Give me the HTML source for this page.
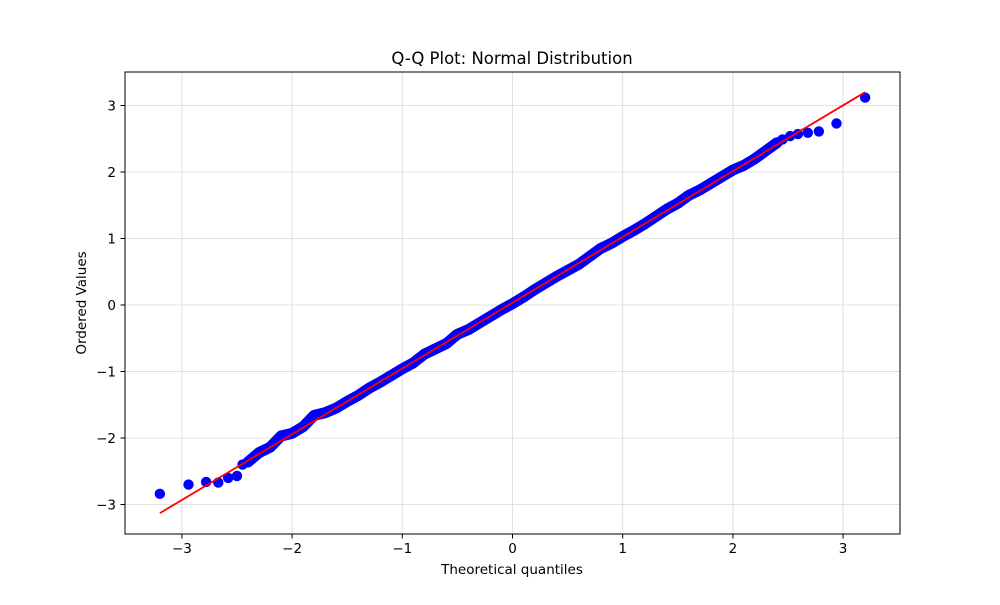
<!DOCTYPE html>
<html><head><meta charset="utf-8"><style>
body{margin:0;background:#fff;font-family:"Liberation Sans","DejaVu Sans",sans-serif}
svg text{font-family:"DejaVu Sans","Liberation Sans",sans-serif}
</style></head><body>
<svg id="chart" width="1000" height="600" xmlns="http://www.w3.org/2000/svg">
<rect width="1000" height="600" fill="#fff"/>
<g id="grid"></g>
<g id="marks"></g>
<rect x="125" y="72" width="775" height="462" fill="none" stroke="#000" stroke-width="1"/>
<g id="ticks"></g>
<text x="512" y="64" font-size="16.5" text-anchor="middle">Q-Q Plot: Normal Distribution</text>
<text x="512" y="574" font-size="13.5" text-anchor="middle">Theoretical quantiles</text>
<text x="0" y="0" font-size="13.5" text-anchor="middle" transform="translate(86,303) rotate(-90)">Ordered Values</text>
</svg>
<script>
const xTicks=[-3,-2,-1,0,1,2,3];
const yTicks=[-3,-2,-1,0,1,2,3];
const tailLowX=[-3.2,-2.94,-2.78,-2.67,-2.58,-2.5,-2.45];
const tailLowY=[-2.84,-2.70,-2.66,-2.67,-2.60,-2.57,-2.40];
const midX=[-2.4,-2.3,-2.2,-2.1,-2.0,-1.9,-1.8,-1.7,-1.6,-1.5,-1.4,-1.3,-1.2,-1.1,-1.0,-0.9,-0.8,-0.7,-0.6,-0.5,-0.4,-0.3,-0.2,-0.1,0,0.1,0.2,0.3,0.4,0.5,0.6,0.7,0.8,0.9,1.0,1.1,1.2,1.3,1.4,1.5,1.6,1.7,1.8,1.9,2.0,2.1,2.2,2.3,2.4];
const midY=[-2.36,-2.22,-2.14,-1.97,-1.93,-1.83,-1.66,-1.62,-1.55,-1.45,-1.36,-1.25,-1.16,-1.06,-0.96,-0.87,-0.74,-0.66,-0.58,-0.44,-0.37,-0.27,-0.17,-0.07,0.02,0.12,0.23,0.33,0.43,0.52,0.61,0.73,0.85,0.93,1.03,1.12,1.22,1.33,1.44,1.53,1.65,1.73,1.83,1.93,2.03,2.10,2.20,2.32,2.44];
const tailHighX=[2.45,2.52,2.59,2.68,2.78,2.94,3.2];
const tailHighY=[2.49,2.54,2.57,2.59,2.61,2.73,3.12];
const fitX=[-3.2,3.2];
const fitY=[-3.13,3.2];
const NS="http://www.w3.org/2000/svg";
const X=v=>512.5+v*110.2, Y=v=>305-v*66.5;
const mk=(t,a,p)=>{const e=document.createElementNS(NS,t);for(const k in a)e.setAttribute(k,a[k]);p.appendChild(e);return e;};
const grid=document.getElementById('grid'),ticks=document.getElementById('ticks'),marks=document.getElementById('marks');
xTicks.forEach(v=>{
 const g=mk('line',{x1:X(v),x2:X(v),y1:72,y2:534,stroke:'#e0e0e0','stroke-width':1},grid);
 
 
 const t=mk('line',{x1:X(v),x2:X(v),y1:534,y2:538.5,stroke:'#000'},ticks);
 
 
 const l=mk('text',{x:X(v),y:553,'font-size':13.5,'text-anchor':'middle'},ticks);l.textContent=(v<0?'\u2212'+(-v):v);
 
 
});
yTicks.forEach(v=>{
 const g=mk('line',{x1:125,x2:900,y1:Y(v),y2:Y(v),stroke:'#e0e0e0','stroke-width':1},grid);
 
 
 const t=mk('line',{x1:120.5,x2:125,y1:Y(v),y2:Y(v),stroke:'#000'},ticks);
 
 
 const l=mk('text',{x:116,y:Y(v)+5,'font-size':13.5,'text-anchor':'end'},ticks);l.textContent=(v<0?'\u2212'+(-v):v);
 
 
});
const band=mk('polyline',{points:midX.map((x,i)=>X(x)+','+Y(midY[i])).join(' '),fill:'none',stroke:'#0000ff','stroke-width':11,'stroke-linecap':'round','stroke-linejoin':'round'},marks);


[[tailLowX,tailLowY],[midX,midY],[tailHighX,tailHighY]].forEach(([xs,ys])=>xs.forEach((x,i)=>{
 const c=mk('circle',{cx:X(x),cy:Y(ys[i]),r:5.2,fill:'#0000ff'},marks);
 
 
}));
const fit=mk('line',{x1:X(fitX[0]),y1:Y(fitY[0]),x2:X(fitX[1]),y2:Y(fitY[1]),stroke:'#ff0000','stroke-width':1.8},marks);


</script>
</body></html>
